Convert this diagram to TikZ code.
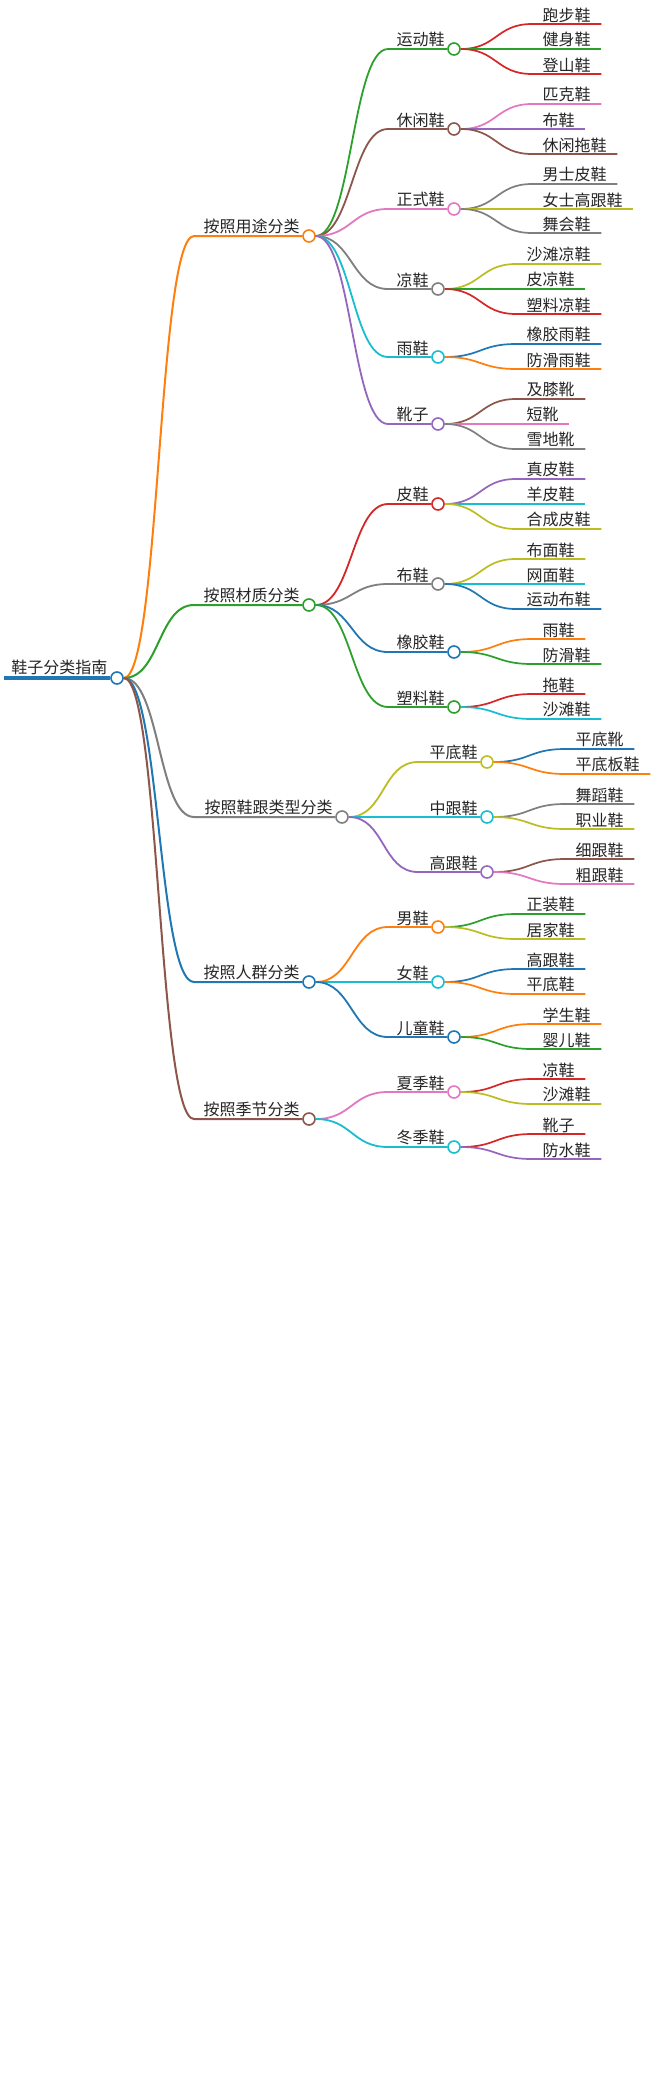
\documentclass[tikz,border=0pt]{standalone}
\usepackage{fontspec}
\setmainfont{Noto Sans CJK SC}
\definecolor{cB}{HTML}{1F77B4}
\definecolor{cO}{HTML}{FF7F0E}
\definecolor{cG}{HTML}{2CA02C}
\definecolor{cR}{HTML}{D62728}
\definecolor{cPu}{HTML}{9467BD}
\definecolor{cBr}{HTML}{8C564B}
\definecolor{cP}{HTML}{E377C2}
\definecolor{cGr}{HTML}{7F7F7F}
\definecolor{cOl}{HTML}{BCBD22}
\definecolor{cC}{HTML}{17BECF}
\tikzset{
  dot/.style={circle, fill=white, line width=1.6pt, minimum size=12pt, inner sep=0pt},
  lbl/.style={font=\fontsize{16}{18}\selectfont, inner xsep=2.5pt, inner ysep=1.5pt, text=black!85},
  leaflbl/.style={lbl, inner xsep=10.5pt},
  edge/.style={line width=1.7pt},
  curve/.style={out=0, in=180, out distance=36pt, in distance=36pt}
}
% #1 name, #2 parent, #3 colour, #4 line start x, #5 circle x, #6 y, #7 text, #8 width
\newcommand\brnode[8]{%
  \coordinate (#1s) at (#4,#6);
  \node[dot,draw=#3] (#1) at (#5,#6) {};
  \node[lbl,anchor=south east] (#1t) at (#1.west) {#7};
  \draw[edge,#3,line width=#8] (#2.east) to[curve] (#1s) -- (#1.west);
}
% #1 name, #2 parent, #3 colour, #4 line start x, #5 y, #6 text
\newcommand\lfnode[6]{%
  \node[leaflbl,anchor=south west] (#1) at (#4,#5) {#6};
  \draw[edge,#3] (#2.east) to[curve] (#1.south west) -- (#1.south east);
}
\begin{document}
\begin{tikzpicture}[x=1pt,y=-1pt]
\useasboundingbox[fill=white] (0,0) rectangle (655,2089);
% root
\coordinate (rs) at (4,678);
\node[dot,draw=cB] (root) at (117,678) {};
\node[lbl,anchor=south east,inner ysep=2.5pt] (roott) at (root.west) {鞋子分类指南};
\draw[cB,line width=4pt] (rs) -- (root.west);
% level 1
\brnode{A}{root}{cO}{194}{309}{236}{按照用途分类}{2pt}
\brnode{B}{root}{cG}{194}{309}{605}{按照材质分类}{2pt}
\brnode{C}{root}{cGr}{194}{342}{817}{按照鞋跟类型分类}{2pt}
\brnode{D}{root}{cB}{194}{309}{982}{按照人群分类}{2pt}
\brnode{E}{root}{cBr}{194}{309}{1119}{按照季节分类}{2pt}
% A
\brnode{A1}{A}{cG}{388}{454}{49}{运动鞋}{1.8pt}
\brnode{A2}{A}{cBr}{388}{454}{129}{休闲鞋}{1.8pt}
\brnode{A3}{A}{cP}{388}{454}{209}{正式鞋}{1.8pt}
\brnode{A4}{A}{cGr}{388}{438}{289}{凉鞋}{1.8pt}
\brnode{A5}{A}{cC}{388}{438}{357}{雨鞋}{1.8pt}
\brnode{A6}{A}{cPu}{388}{438}{424}{靴子}{1.8pt}
\lfnode{A1a}{A1}{cR}{532}{24}{跑步鞋}
\lfnode{A1b}{A1}{cG}{532}{49}{健身鞋}
\lfnode{A1c}{A1}{cR}{532}{74}{登山鞋}
\lfnode{A2a}{A2}{cP}{532}{104}{匹克鞋}
\lfnode{A2b}{A2}{cPu}{532}{129}{布鞋}
\lfnode{A2c}{A2}{cBr}{532}{154}{休闲拖鞋}
\lfnode{A3a}{A3}{cGr}{532}{184}{男士皮鞋}
\lfnode{A3b}{A3}{cOl}{532}{209}{女士高跟鞋}
\lfnode{A3c}{A3}{cGr}{532}{233}{舞会鞋}
\lfnode{A4a}{A4}{cOl}{516}{264}{沙滩凉鞋}
\lfnode{A4b}{A4}{cG}{516}{289}{皮凉鞋}
\lfnode{A4c}{A4}{cR}{516}{314}{塑料凉鞋}
\lfnode{A5a}{A5}{cB}{516}{344}{橡胶雨鞋}
\lfnode{A5b}{A5}{cO}{516}{369}{防滑雨鞋}
\lfnode{A6a}{A6}{cBr}{516}{399}{及膝靴}
\lfnode{A6b}{A6}{cP}{516}{424}{短靴}
\lfnode{A6c}{A6}{cGr}{516}{449}{雪地靴}
% B
\brnode{B1}{B}{cR}{388}{438}{504}{皮鞋}{1.8pt}
\brnode{B2}{B}{cGr}{388}{438}{584}{布鞋}{1.8pt}
\brnode{B3}{B}{cB}{388}{454}{652}{橡胶鞋}{1.8pt}
\brnode{B4}{B}{cG}{388}{454}{707}{塑料鞋}{1.8pt}
\lfnode{B1a}{B1}{cPu}{516}{479}{真皮鞋}
\lfnode{B1b}{B1}{cC}{516}{504}{羊皮鞋}
\lfnode{B1c}{B1}{cOl}{516}{529}{合成皮鞋}
\lfnode{B2a}{B2}{cOl}{516}{559}{布面鞋}
\lfnode{B2b}{B2}{cC}{516}{584}{网面鞋}
\lfnode{B2c}{B2}{cB}{516}{609}{运动布鞋}
\lfnode{B3a}{B3}{cO}{532}{639}{雨鞋}
\lfnode{B3b}{B3}{cG}{532}{664}{防滑鞋}
\lfnode{B4a}{B4}{cR}{532}{694}{拖鞋}
\lfnode{B4b}{B4}{cC}{532}{719}{沙滩鞋}
% C
\brnode{C1}{C}{cOl}{418}{487}{762}{平底鞋}{1.8pt}
\brnode{C2}{C}{cC}{418}{487}{817}{中跟鞋}{1.8pt}
\brnode{C3}{C}{cPu}{418}{487}{872}{高跟鞋}{1.8pt}
\lfnode{C1a}{C1}{cB}{565}{749}{平底靴}
\lfnode{C1b}{C1}{cO}{565}{774}{平底板鞋}
\lfnode{C2a}{C2}{cGr}{565}{804}{舞蹈鞋}
\lfnode{C2b}{C2}{cOl}{565}{829}{职业鞋}
\lfnode{C3a}{C3}{cBr}{565}{859}{细跟鞋}
\lfnode{C3b}{C3}{cP}{565}{884}{粗跟鞋}
% D
\brnode{D1}{D}{cO}{388}{438}{927}{男鞋}{1.8pt}
\brnode{D2}{D}{cC}{388}{438}{982}{女鞋}{1.8pt}
\brnode{D3}{D}{cB}{388}{454}{1037}{儿童鞋}{1.8pt}
\lfnode{D1a}{D1}{cG}{516}{914}{正装鞋}
\lfnode{D1b}{D1}{cOl}{516}{939}{居家鞋}
\lfnode{D2a}{D2}{cB}{516}{969}{高跟鞋}
\lfnode{D2b}{D2}{cO}{516}{994}{平底鞋}
\lfnode{D3a}{D3}{cO}{532}{1024}{学生鞋}
\lfnode{D3b}{D3}{cG}{532}{1049}{婴儿鞋}
% E
\brnode{E1}{E}{cP}{388}{454}{1092}{夏季鞋}{1.8pt}
\brnode{E2}{E}{cC}{388}{454}{1147}{冬季鞋}{1.8pt}
\lfnode{E1a}{E1}{cR}{532}{1079}{凉鞋}
\lfnode{E1b}{E1}{cOl}{532}{1104}{沙滩鞋}
\lfnode{E2a}{E2}{cR}{532}{1134}{靴子}
\lfnode{E2b}{E2}{cPu}{532}{1159}{防水鞋}
\end{tikzpicture}
\end{document}
